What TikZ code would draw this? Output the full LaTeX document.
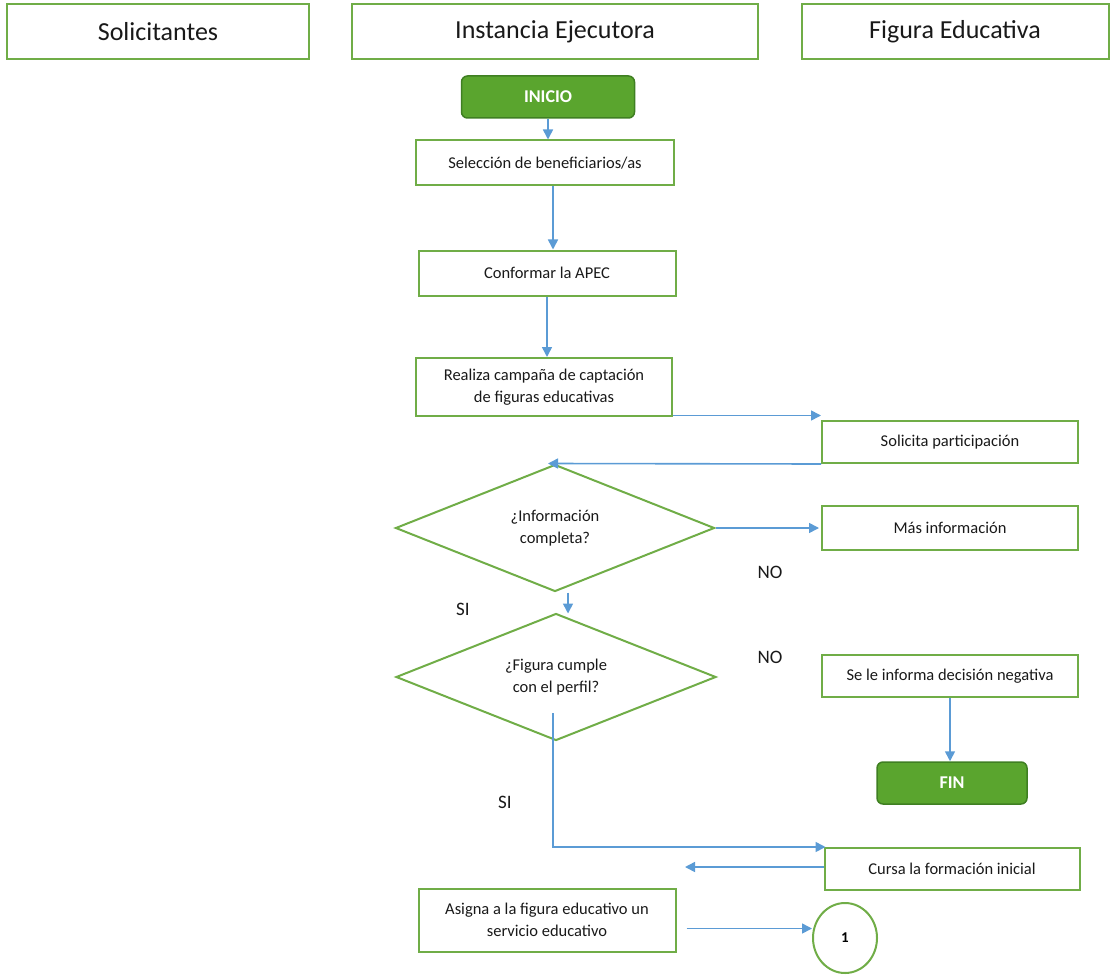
\documentclass[tikz,border=0pt]{standalone}
\usepackage{fontspec}
\setmainfont{Carlito}
\usetikzlibrary{shapes.geometric,arrows.meta}
\definecolor{bgreen}{HTML}{70AD47}
\definecolor{ablue}{HTML}{5B9BD5}
\definecolor{tgreen}{HTML}{5AA52E}
\definecolor{tborder}{HTML}{3F7F22}
\tikzset{
  header/.style={draw=bgreen,line width=2pt,minimum height=55pt,inner sep=0pt,font=\fontsize{26}{30}\selectfont,text=black!90},
  proc/.style={draw=bgreen,line width=2pt,inner sep=0pt,align=center,font=\fontsize{16.5}{22}\selectfont,text=black!90},
  term/.style={draw=tborder,fill=tgreen,line width=1.5pt,rounded corners=6pt,inner sep=0pt,font=\fontsize{18}{20}\selectfont\bfseries,text=white},
  decis/.style={diamond,aspect=2.5,draw=bgreen,line width=2pt,inner sep=0pt,align=center,font=\fontsize{16.5}{22}\selectfont,text=black!90},
  lbl/.style={font=\fontsize{19}{22}\selectfont,text=black!90},
  arr/.style={draw=ablue,line width=1.6pt,-{Triangle[length=10pt,width=10pt]}},
  ln/.style={draw=ablue,line width=1.6pt}
}
\begin{document}
\begin{tikzpicture}[x=1pt,y=-1pt]
\useasboundingbox (0,0) rectangle (1115,976);
% headers
\node[header,minimum width=302pt] (h1) at (158,32) {Solicitantes};
\node[header,minimum width=406pt] (h2) at (555,32) {Instancia Ejecutora};
\node[header,minimum width=307pt] (h3) at (955,32) {Figura Educativa};
% nodes
\node[term,minimum width=173pt,minimum height=42pt] (ini) at (548,97) {INICIO};
\node[proc,minimum width=258pt,minimum height=45pt] (sel) at (545,163) {Selección de beneficiarios/as};
\node[proc,minimum width=257pt,minimum height=45pt] (apec) at (547,273) {Conformar la APEC};
\node[proc,minimum width=256pt,minimum height=58pt] (camp) at (544,387) {Realiza campaña de captación\\de figuras educativas};
\node[proc,minimum width=256pt,minimum height=42pt] (sol) at (950,442) {Solicita participación};
\node[decis,minimum width=319pt,minimum height=127pt] (d1) at (555,528) {¿Información\\completa?};
\node[proc,minimum width=256pt,minimum height=44pt] (mas) at (950,528) {Más información};
\node[decis,minimum width=320pt,minimum height=127pt] (d2) at (556,677) {¿Figura cumple\\con el perfil?};
\node[proc,minimum width=256pt,minimum height=42pt] (neg) at (950,676) {Se le informa decisión negativa};
\node[term,minimum width=150pt,minimum height=42pt] (fin) at (952,783) {FIN};
\node[proc,minimum width=255pt,minimum height=42pt] (cur) at (952,869) {Cursa la formación inicial};
\node[proc,minimum width=257pt,minimum height=63pt] (asig) at (547,920) {Asigna a la figura educativo un\\servicio educativo};
\node[ellipse,draw=bgreen,line width=2pt,minimum width=64pt,minimum height=70pt,inner sep=0pt,font=\fontsize{15}{17}\selectfont\bfseries] (one) at (845,938) {1};
% labels
\node[lbl] (no1) at (770,572) {NO};
\node[lbl] (si1) at (463,609) {SI};
\node[lbl] (no2) at (770,657) {NO};
\node[lbl] (si2) at (505,802) {SI};
\coordinate (back) at (685,867);
\coordinate (cs) at ([yshift=1.5pt]camp.south east);
\coordinate (ds) at ([xshift=-3pt,yshift=-36pt]d2.center);
\coordinate (as) at ([xshift=10pt,yshift=-8.5pt]asig.east);
% connectors
\draw[arr] (ini.south) -- (sel.north -| ini.south);
\draw[arr] ([xshift=8pt]sel.south) -- ([xshift=6pt]apec.north);
\draw[arr] (apec.south) -- (camp.north -| apec.south);
\draw[arr] (cs) -- (cs -| sol.west);
\draw[arr] (sol.south west) -- ([xshift=-7pt]d1.north);
\draw[arr] (d1.east) -- ([xshift=-2pt]mas.west);
\draw[arr] ([xshift=13pt]d1.south) -- ([xshift=12pt,yshift=-1pt]d2.north);
\draw[arr] (neg.south) -- (fin.north -| neg.south);
\draw[arr] (ds) |- ([xshift=2pt]cur.north west);
\draw[arr] ([yshift=2pt]cur.west) -- (back);
\draw[arr] (as) -- (as -| one.west);
\end{tikzpicture}
\end{document}
